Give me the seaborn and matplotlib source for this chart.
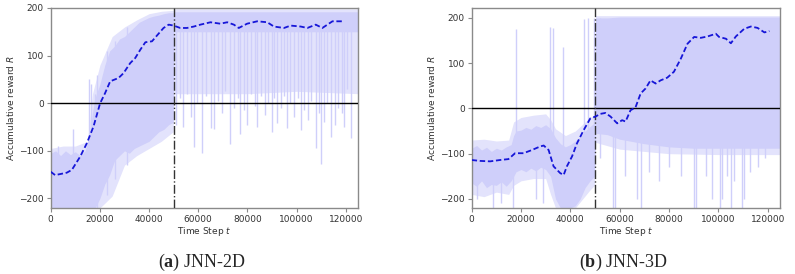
import matplotlib
matplotlib.use("Agg")
import matplotlib.pyplot as plt
import seaborn as sns
import pandas as pd

# ---- JNN-2D: moving average of accumulative reward ----
avg_t_a = [0, 1800, 6500, 8600, 12000, 14700, 17400, 20100, 22100, 24200, 27600, 29600,
           32300, 34400, 36400, 38500, 41200, 43200, 45900, 48000, 50000, 52700, 55400,
           58200, 60900, 65000, 69000, 71800, 74500, 76500, 79900, 84000, 88100, 90800,
           94900, 97600, 101700, 104400, 107800, 110500, 114600, 119300]
avg_r_a = [-144, -151, -146, -140, -112, -84, -49, 0, 21, 46, 53, 63,
           84, 95, 112, 128, 130, 142, 158, 165, 163, 158, 158,
           161, 165, 170, 167, 170, 165, 158, 167, 172, 170, 161,
           158, 163, 161, 158, 165, 158, 172, 172]

# raw episodes: dense core of the noisy curve
band_t_a = [0, 2000, 4000, 6000, 8000, 10000, 12000, 14000, 16000, 17000, 18000, 20000,
            22000, 24000, 26000, 28000, 30000, 32000, 34000, 36000, 38000, 40000, 42000,
            44000, 46000, 48000, 49800, 50200, 60000, 80000, 100000, 125000]
band_hi_a = [-105, -100, -110, -100, -108, -102, -110, -100, -60, -20, 10, 40,
             80, 110, 120, 135, 140, 150, 160, 170, 175, 180, 183,
             185, 188, 190, 190, 192, 192, 192, 192, 192]
band_lo_a = [-220, -220, -220, -220, -220, -220, -220, -220, -220, -220, -220, -200,
             -170, -150, -120, -110, -100, -105, -95, -90, -85, -80, -70,
             -60, -55, -45, -40, 150, 150, 150, 150, 150]

# raw episodes: lighter fringe around the core
fringe_t_a = [0, 5000, 10000, 15000, 17000, 20000, 25000, 30000, 35000, 40000, 45000,
              49800, 50200, 60000, 80000, 100000, 125000]
fringe_hi_a = [-95, -90, -90, -80, 20, 80, 140, 160, 175, 188, 193,
               195, 198, 198, 198, 198, 198]
fringe_lo_a = [-220, -220, -220, -220, -220, -220, -195, -130, -110, -95, -80,
               -60, 20, 20, 20, 25, 20]

# raw episodes: isolated spikes (x, low, high)
spike_t_a = [3100, 9000, 15500, 16500, 18000, 19000, 22800, 26000, 31000,
             51000, 52500, 54000, 55500, 57000, 58200, 59500, 61500, 63000, 65000, 66300,
             68000, 69500, 71000, 73100, 74500, 76000, 77200, 78500, 79900, 81500, 83000,
             84000, 85500, 87000, 88500, 90100, 91000, 92100, 93500, 95000, 96200, 97500,
             99000, 100500, 101700, 103000, 104500, 106000, 107800, 109000, 109800, 111000,
             112500, 113900, 115500, 117000, 118300, 119300, 120500, 122000]
spike_lo_a = [-220, -220, -220, -220, -220, -220, -193, -160, -130,
              -45, 10, -50, 20, -30, -91, 0, -105, 15, -52, -55,
              5, -20, 25, -85, -10, 10, -64, -15, -46, 20, -5,
              -50, 15, -25, 0, -60, 10, -42, -10, 15, -53, 0,
              -30, 10, -56, -15, -35, 5, -95, -20, -127, -40,
              0, -70, -45, -10, -20, -49, 30, -73]
spike_hi_a = [-90, -55, 50, 40, 20, 60, 110, 130, 160] + [190] * 51

# ---- JNN-3D ----
avg_t_b = [0, 3400, 7500, 11500, 14900, 17600, 21000, 24400, 27800, 29200, 31200, 33200,
           35900, 37300, 38600, 40700, 42700, 45400, 48100, 50200, 52200, 54200, 56300,
           59000, 61000, 62400, 64400, 66400, 68500, 70500, 72500, 74600, 76600, 79300,
           82000, 84800, 87500, 90200, 92900, 95600, 99000, 100300, 103100, 105100,
           107100, 110500, 113200, 115900, 118700, 120700]
avg_r_b = [-114, -116, -117, -114, -112, -99, -99, -92, -84, -82, -92, -128,
           -143, -147, -128, -106, -77, -48, -22, -18, -12, -10, -18,
           -33, -26, -29, -4, 2, 33, 44, 62, 55, 62, 68,
           81, 110, 143, 158, 156, 159, 165, 158, 154, 144,
           159, 176, 181, 178, 168, 171]

band_t_b = [0, 2000, 4000, 6000, 8000, 10000, 12000, 14000, 16000, 17000, 18000, 20000,
            22000, 24000, 26000, 28000, 30000, 32000, 34000, 36000, 38000, 40000, 42000,
            44000, 46000, 48000, 49800, 50200, 55000, 60000, 70000, 80000, 90000,
            100000, 110000, 125000]
band_hi_b = [-88, -82, -92, -86, -95, -88, -92, -85, -80, -60, -50, -48,
             -42, -46, -38, -42, -36, -45, -65, -78, -85, -80, -72,
             -62, -50, -40, -32, 200, 200, 202, 202, 202, 202,
             202, 202, 202]
band_lo_b = [-165, -172, -160, -175, -168, -170, -162, -172, -160, -150, -140, -135,
             -140, -132, -138, -130, -135, -150, -200, -220, -220, -220, -215,
             -200, -175, -160, -150, -55, -58, -68, -78, -85, -88,
             -88, -88, -88]

fringe_t_b = [0, 5000, 10000, 15000, 17000, 20000, 25000, 30000, 32000, 34000, 38000,
              42000, 45000, 48000, 49800, 50200, 60000, 80000, 100000, 125000]
fringe_hi_b = [-70, -68, -72, -70, -30, -20, -15, -12, -25, -45, -60,
               -50, -35, -20, -15, 205, 205, 205, 205, 205]
fringe_lo_b = [-190, -195, -185, -190, -170, -160, -155, -155, -190, -220, -220,
               -220, -200, -180, -170, -75, -90, -100, -102, -102]

spike_t_b = [2000, 8700, 12000, 16900, 18000, 26000, 29000, 31800, 33000, 37000,
             45500, 47000, 49500, 52000, 57500, 58300, 62000, 67000, 68500, 72000,
             76000, 80000, 85000, 90000, 91000, 95000, 97500, 100500, 101500, 103500,
             105000, 106500, 109500, 110500, 113000, 116000, 119000]
spike_lo_b = [-200, -220, -210, -220, -120, -200, -210, -60, -60, -120,
              -100, -80, -60, -110, -220, -220, -150, -200, -220, -140,
              -160, -130, -150, -220, -220, -150, -200, -220, -200, -150,
              -220, -160, -220, -200, -140, -130, -110]
spike_hi_b = [-120, -140, -140, -130, 175, -130, -120, 180, 178, 135,
              197, 200, 200] + [200] * 24

xticks = [0, 20000, 40000, 60000, 80000, 100000, 120000]
yticks = [-200, -100, 0, 100, 200]

panels = [
    ("a", "JNN-2D", avg_t_a, avg_r_a, band_t_a, band_lo_a, band_hi_a,
     fringe_t_a, fringe_lo_a, fringe_hi_a,
     spike_t_a, spike_lo_a, spike_hi_a, (-220, 200)),
    ("b", "JNN-3D", avg_t_b, avg_r_b, band_t_b, band_lo_b, band_hi_b,
     fringe_t_b, fringe_lo_b, fringe_hi_b,
     spike_t_b, spike_lo_b, spike_hi_b, (-220, 222)),
]

sns.set_style("ticks")
plt.rcParams["font.family"] = ["DejaVu Sans"]
plt.rcParams["mathtext.fontset"] = "custom"
plt.rcParams["mathtext.rm"] = "Liberation Serif"
plt.rcParams["mathtext.bf"] = "Liberation Serif:bold"
plt.rcParams["mathtext.it"] = "DejaVu Sans:italic"

raw_color = "#cfcffa"
fringe_color = "#e3e3fc"
avg_color = "#1616d8"
spine_color = "#8a8a8a"

fig = plt.figure(figsize=(7.95, 2.74), dpi=100)
ax_a = fig.add_axes([0.0638, 0.241, 0.3865, 0.7299])
ax_b = fig.add_axes([0.5933, 0.241, 0.3878, 0.7299])
cap_x = [202 / 795, 623 / 795]

for ax, p, cx in zip([ax_a, ax_b], panels, cap_x):
    tag, name, at, ar, bt, blo, bhi, ft, flo, fhi, st, slo, shi, ylim = p

    # raw episode rewards
    ax.fill_between(ft, flo, fhi, color=fringe_color, lw=0)
    ax.fill_between(bt, blo, bhi, color=raw_color, lw=0)
    ax.vlines(st, slo, shi, color=raw_color, lw=1.0)

    # moving average
    df = pd.DataFrame({"t": at, "r": ar})
    sns.lineplot(data=df, x="t", y="r", ax=ax, color=avg_color, lw=1.3,
                 ls=(0, (3, 1.5)), zorder=4)

    ax.axhline(0, color="black", lw=1.0, zorder=3)
    ax.axvline(50000, color="#333333", lw=1.0, ls="-.", zorder=3)

    ax.set_xlim(0, 125000)
    ax.set_ylim(*ylim)
    ax.set_xticks(xticks)
    ax.set_yticks(yticks)
    ax.tick_params(labelsize=6.5, length=3, width=0.8, color=spine_color,
                   labelcolor="#333333", pad=2)
    for s in ax.spines.values():
        s.set_color(spine_color)
        s.set_linewidth(1.0)

    ax.set_xlabel("Time Step $t$", fontsize=6.5, color="#333333")
    ax.set_ylabel("Accumulative reward $R$", fontsize=6.5, color="#333333")
    ax.xaxis.set_label_coords(0.5, -0.085)
    ax.yaxis.set_label_coords(-0.112, 0.5)

    fig.text(cx, 1 - 262 / 274, "($\\mathbf{" + tag + "}$) " + name,
             ha="center", va="center", fontsize=13, family="Liberation Serif")

fig.savefig("out.png", dpi=100)
